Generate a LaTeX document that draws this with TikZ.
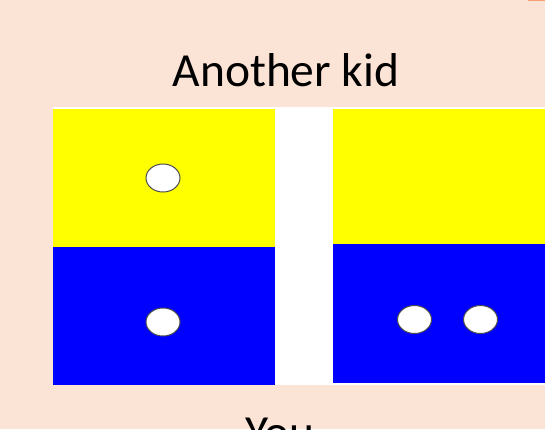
\documentclass[tikz,border=0pt]{standalone}
\usepackage{fontspec}
\setmainfont{Carlito}
\usetikzlibrary{shapes.geometric}
\definecolor{bgpeach}{HTML}{FBE3D6}
\definecolor{ylw}{HTML}{FFFF00}
\definecolor{blu}{HTML}{0000FF}
\definecolor{orng}{HTML}{F4A070}
\tikzset{
  dot/.style={ellipse, draw=black!70, line width=1pt, fill=white, minimum width=34pt, minimum height=28pt, inner sep=0pt},
  lbl/.style={font=\fontsize{47.5}{52}\selectfont, anchor=base, inner sep=0pt}
}
\begin{document}
\begin{tikzpicture}[x=1pt,y=-1pt]
\useasboundingbox (0,0) rectangle (545,429);
\fill[bgpeach] (0,0) rectangle (545,429);
\fill[orng] (528,0) rectangle (545,1.2);
\fill[white] (53,107) rectangle (545,385);
\fill[ylw] (53,109) rectangle (275,247);
\fill[blu] (53,247) rectangle (275,385);
\fill[ylw] (333,109) rectangle (545,244);
\fill[blu] (333,244) rectangle (545,383);
\node[dot] (d1) at (163,178) {};
\node[dot] (d2) at (163,322) {};
\node[dot] (d3) at (414.5,319.5) {};
\node[dot] (d4) at (480.5,319.5) {};
\node[lbl] (t1) at (286,86) {Another kid};
\node[lbl] (t2) at (280,448) {You};
\end{tikzpicture}
\end{document}
